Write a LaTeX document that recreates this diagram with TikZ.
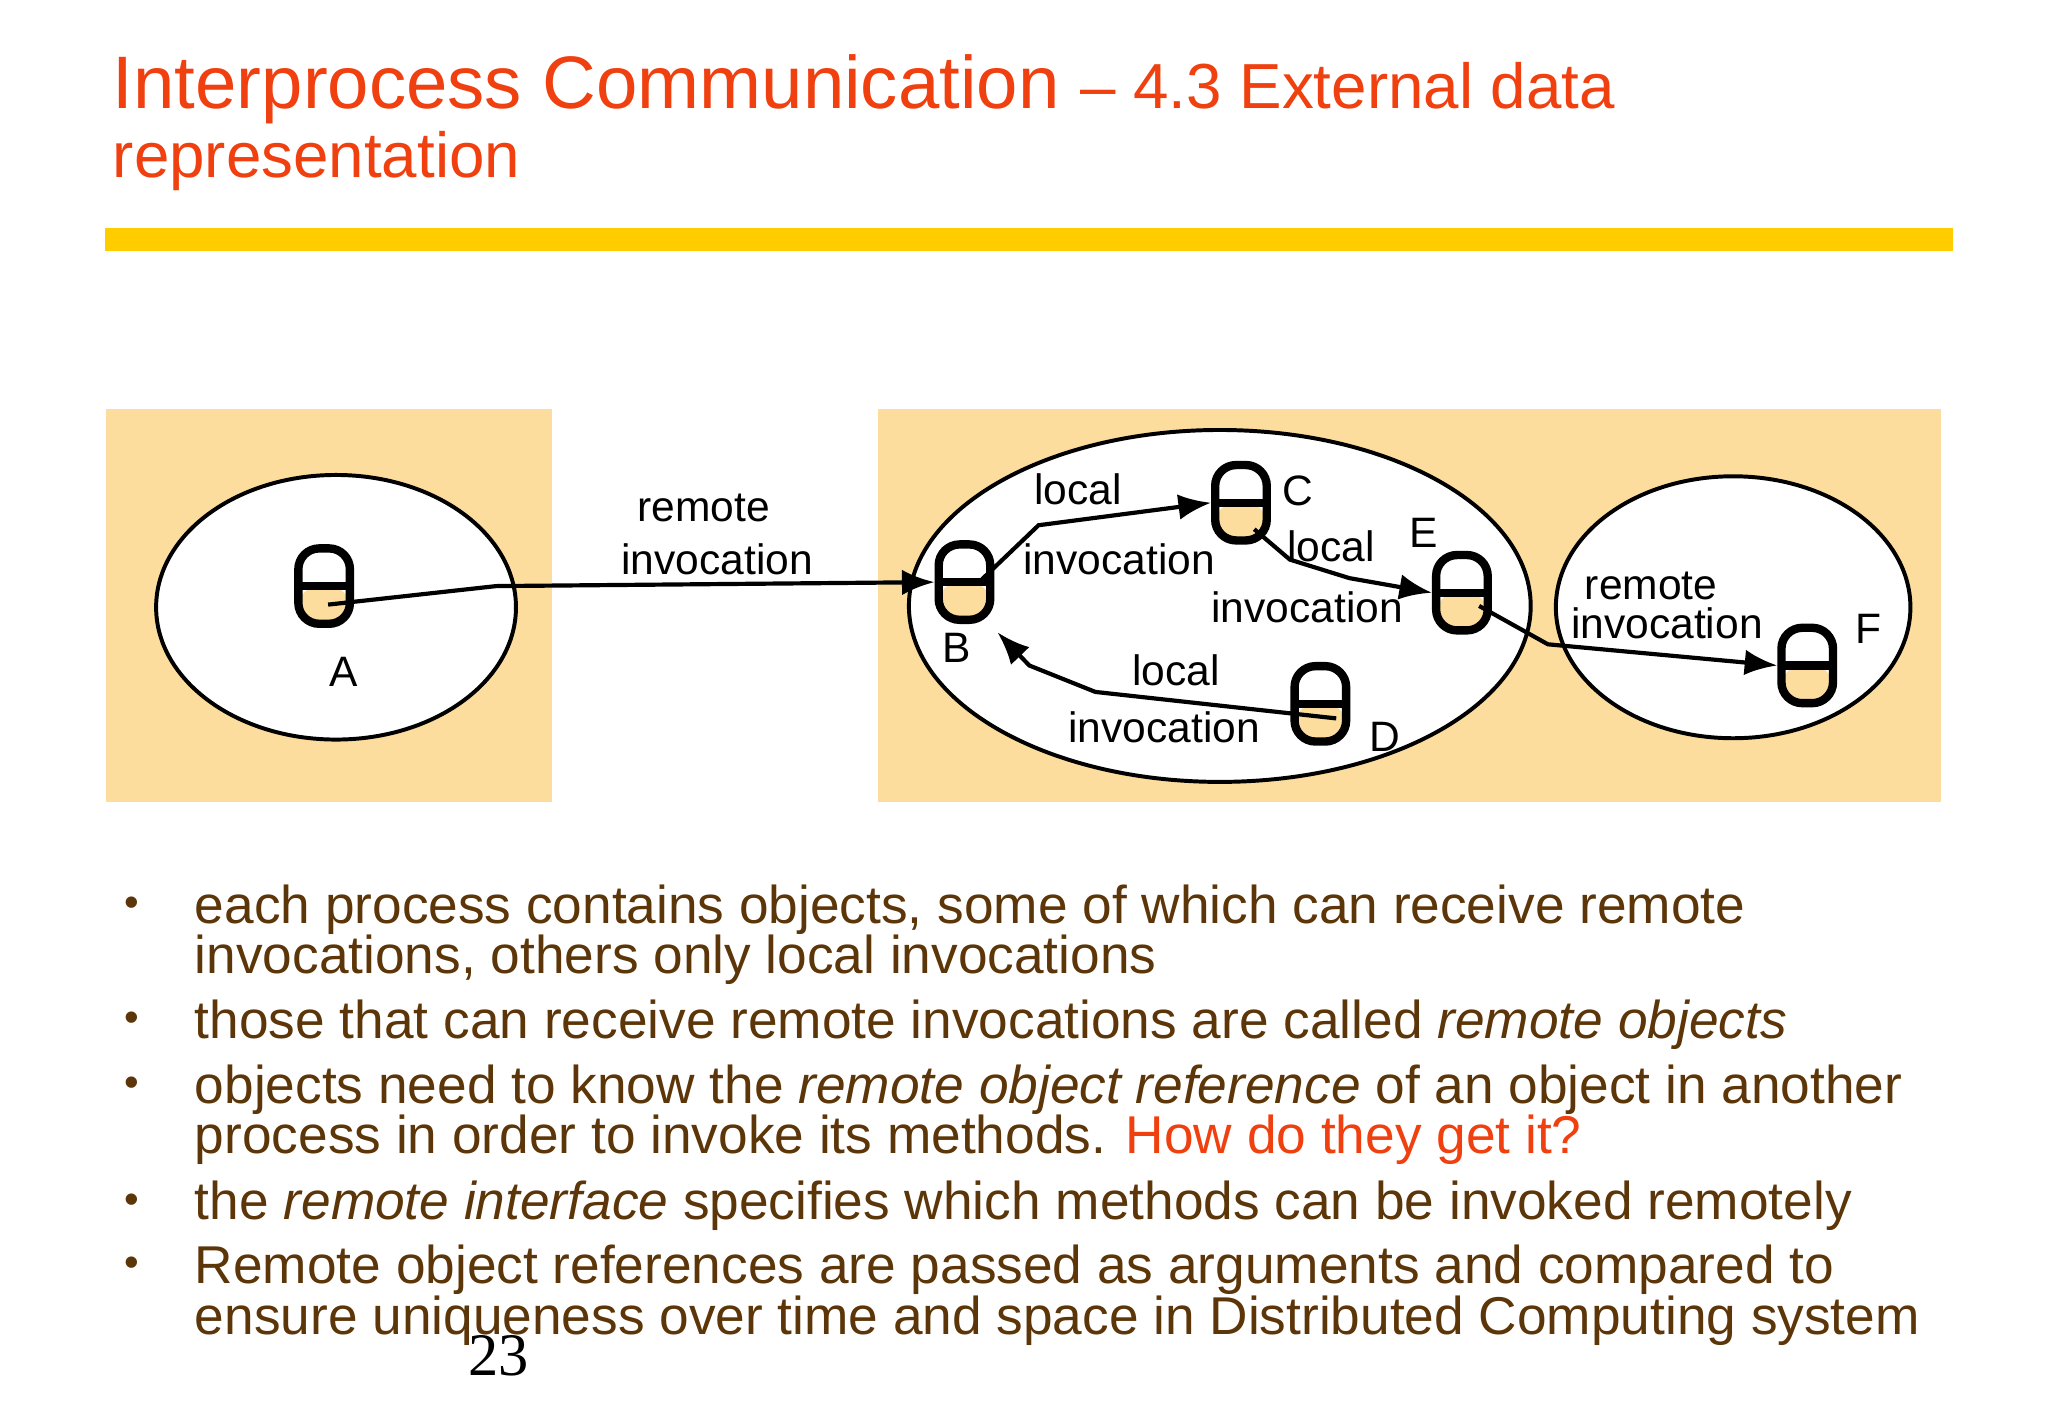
\documentclass[tikz,border=0pt]{standalone}
\usepackage{fontspec}
\setmainfont{Liberation Sans}
\usetikzlibrary{arrows.meta}
\definecolor{tan}{HTML}{FCDD9E}
\definecolor{ttl}{HTML}{F0400F}
\definecolor{brn}{HTML}{5C3508}
\definecolor{bar}{HTML}{FFCC00}
\begin{document}
\begin{tikzpicture}[x=0.02cm,y=-0.02cm,
  obj/.style={draw,line width=3.6pt,rounded corners=9pt,minimum width=0.78cm,minimum height=1.14cm,inner sep=0pt,
    path picture={\fill[tan] (path picture bounding box.west) rectangle (path picture bounding box.south east);
      \draw[line width=3.6pt] ([xshift=-2pt]path picture bounding box.west) -- (path picture bounding box.east);}},
  proc/.style={draw,line width=1.7pt,fill=white},
  arr/.style={line width=1.8pt,-{Latex[length=14pt,width=11pt]}},
  lbl/.style={font=\fontsize{18.3}{20}\selectfont,inner sep=0pt,align=center},
  let/.style={font=\fontsize{18.3}{20}\selectfont,inner sep=0pt},
  bt/.style={anchor=base west,inner sep=0pt,text=brn,font=\fontsize{22.9}{26}\selectfont},
  dot/.style={anchor=base,inner sep=0pt,text=brn,font=\fontsize{18}{20}\selectfont}]
\useasboundingbox (0,0) rectangle (1548,1072);
\fill[white] (0,0) rectangle (1548,1072);
% title
\node[anchor=base west,inner sep=0pt,text=ttl] (t1) at (85,82) {\fontsize{32}{36}\selectfont Interprocess Communication \fontsize{27.4}{31}\selectfont -- 4.3 External data};
\node[anchor=base west,inner sep=0pt,text=ttl,font=\fontsize{27.4}{31}\selectfont] (t2) at (85,134) {representation};
\fill[bar] (79,172) rectangle (1476,190);
% backgrounds
\fill[tan] (80,309) rectangle (417,606);
\fill[tan] (664,309) rectangle (1467,606);
\draw[proc] (254,459) ellipse [x radius=136,y radius=100];
\draw[proc] (922,458) ellipse [x radius=235,y radius=133];
\draw[proc] (1310,459) ellipse [x radius=134,y radius=99];
% objects
\node[obj] (A) at (245,443) {};
\node[obj] (B) at (729,440) {};
\node[obj] (C) at (938,380) {};
\node[obj] (D) at (998,532) {};
\node[obj] (E) at (1105,448) {};
\node[obj] (F) at (1366,503) {};
% letters
\node[let] (lA) at (260,508) {A};
\node[let] (lB) at (723,490) {B};
\node[let] (lC) at (981,371) {C};
\node[let] (lD) at (1047,557) {D};
\node[let] (lE) at (1076,403) {E};
\node[let] (lF) at (1412,475) {F};
% connectors
\coordinate (a1) at (248,457); \coordinate (a2) at (375,443);
\draw[arr] (a1) -- (a2) -- (B.west);
\coordinate (b1) at (740,440); \coordinate (b2) at (785,397);
\draw[arr] (b1) -- (b2) -- (C.west);
\coordinate (c1) at (948,400); \coordinate (c2) at (975,423); \coordinate (c3) at (1020,437);
\draw[arr] (c1) -- (c2) -- (c3) -- (E.west);
\coordinate (d1) at (1010,543); \coordinate (d2) at (828,523); \coordinate (d3) at (778,503); \coordinate (d4) at (754,478);
\draw[arr] (d1) -- (d2) -- (d3) -- (d4);
\coordinate (e1) at (1118,458); \coordinate (e2) at (1170,487);
\draw[arr] (e1) -- (e2) -- (F.west);
% labels
\node[lbl] (r1) at (532,384) {remote};
\node[lbl] (r2) at (542,423) {invocation};
\node[lbl] (l1) at (815,370) {local};
\node[lbl] (l2) at (846,423) {invocation};
\node[lbl] (l3) at (1006,413) {local};
\node[lbl] (l4) at (988,459) {invocation};
\node[lbl] (l5) at (889,507) {local};
\node[lbl] (l6) at (880,550) {invocation};
\node[lbl] (r3) at (1248,443) {remote};
\node[lbl] (r4) at (1260,471) {invocation};
% bullets
\foreach \y in {693,780,829,917,965} \node[dot] at (100,\y) {•};
\node[bt] (p1) at (147,698) {each process contains objects, some of which can receive remote};
\node[bt] (p2) at (147,736) {invocations, others only local invocations};
\node[bt] (p3) at (147,785) {those that can receive remote invocations are called \textit{remote objects}};
\node[bt] (p4) at (147,834) {objects need to know the \textit{remote object reference} of an object in another};
\node[bt] (p5) at (147,872) {process in order to invoke its methods. \textcolor{ttl}{How do they get it?}};
\node[bt] (p6) at (147,922) {the \textit{remote interface} specifies which methods can be invoked remotely};
\node[bt] (p7) at (147,970) {Remote object references are passed as arguments and compared to};
\node[bt] (p8) at (147,1009) {ensure uniqueness over time and space in Distributed Computing system};
\node[anchor=base,inner sep=0pt,font=\fontspec{Liberation Serif}\fontsize{26}{30}\selectfont] (pg) at (377,1040) {23};
\end{tikzpicture}
\end{document}
